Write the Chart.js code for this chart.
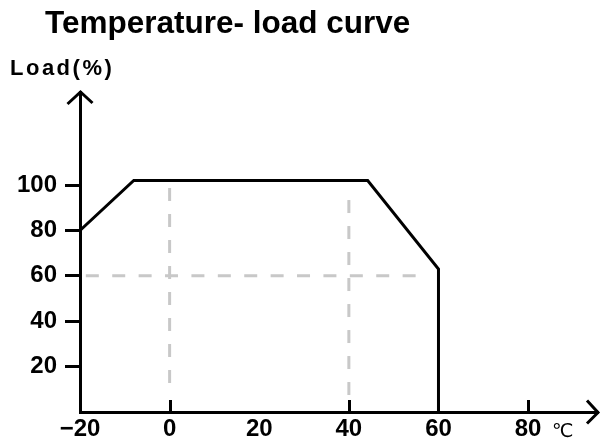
<!DOCTYPE html>
<html><head><meta charset="utf-8">
<script src="https://cdn.jsdelivr.net/npm/chart.js@4"></script>
<style>html,body{margin:0;padding:0;background:#fff}#wrap{width:601px;height:444px}</style>
</head><body><div id="wrap"><canvas id="c" width="601" height="444"></canvas></div>
<script>
// ---- data ----
const titleText = 'Temperature- load curve';
const yAxisLabel = 'Load(%)';
const xUnitLabel = '℃';
const tempC   = [-20, -8, 44.2, 60, 60];
const loadPct = [80, 102, 102, 63, 0];
const xTicks = [-20, 0, 20, 40, 60, 80];
const xTickLabels = ['−20', '0', '20', '40', '60', '80'];
const yTicks = [20, 40, 60, 80, 100];
const xTickMarks = [0, 40, 60, 80];
const guide0X = [0, 0],   guide0Y = [98.7, 11.9];
const guide40X = [40, 40], guide40Y = [93.4, 7.5];
const guide60X = [-18.7, 55.2], guide60Y = [60, 60];
const xMin = -20, xMax = 95.6, yMin = 0, yMax = 141;

const pts = (xs, ys) => xs.map((x, i) => ({x, y: ys[i]}));
const GRAY = '#c8c8c8';

const overlay = {
  id: 'overlay',
  afterDatasetsDraw(chart) {
    const {ctx, chartArea: a, scales: {x}} = chart;
    ctx.save();
    ctx.strokeStyle = '#000'; ctx.lineWidth = 3;
    xTickMarks.forEach(v => {
      const px = Math.round(x.getPixelForValue(v)) + 0.5;
      ctx.beginPath(); ctx.moveTo(px, a.bottom); ctx.lineTo(px, a.bottom - 12); ctx.stroke();
    });
    ctx.restore();
  },
  afterDraw(chart) {
    const {ctx, chartArea: a, scales: {x}} = chart;
    ctx.save();
    ctx.strokeStyle = '#000'; ctx.lineWidth = 3; ctx.lineJoin = 'miter';
    const ax = chart.scales.y.right + 0.5;
    // y arrow
    ctx.beginPath(); ctx.moveTo(ax - 13, a.top + 12); ctx.lineTo(ax, a.top); ctx.lineTo(ax + 12, a.top + 11); ctx.stroke();
    ctx.beginPath(); ctx.moveTo(ax, a.top); ctx.lineTo(ax, a.top + 14); ctx.stroke();
    // x arrow
    const ay = a.bottom + 0.5;
    ctx.beginPath(); ctx.moveTo(a.right - 11, ay - 12); ctx.lineTo(a.right, ay); ctx.lineTo(a.right - 11, ay + 11); ctx.stroke();
    // texts
    ctx.fillStyle = '#000';
    ctx.textAlign = 'left'; ctx.textBaseline = 'alphabetic';
    ctx.font = 'bold 31.5px "Liberation Sans", Arial, sans-serif';
    ctx.fillText(titleText, 45, 33);
    ctx.font = 'bold 22px "Liberation Sans", Arial, sans-serif';
    try { ctx.letterSpacing = '2.5px'; } catch (e) {}
    ctx.fillText(yAxisLabel, 10, 75);
    try { ctx.letterSpacing = '0px'; } catch (e) {}
    ctx.font = '19px "DejaVu Sans", sans-serif';
    ctx.fillText(xUnitLabel, x.getPixelForValue(80) + 24, 437);
    ctx.restore();
  }
};

new Chart(document.getElementById('c'), {
  type: 'line',
  data: {
    datasets: [
      {data: pts(tempC, loadPct), borderColor: '#000', borderWidth: 3, pointRadius: 0, tension: 0, fill: false},
      {data: pts(guide0X, guide0Y), borderColor: GRAY, borderWidth: 3, borderDash: [13, 13], pointRadius: 0},
      {data: pts(guide40X, guide40Y), borderColor: GRAY, borderWidth: 3, borderDash: [13, 13], pointRadius: 0},
      {data: pts(guide60X, guide60Y), borderColor: GRAY, borderWidth: 3, borderDash: [13, 13.4], pointRadius: 0}
    ]
  },
  options: {
    responsive: false,
    animation: false,
    events: [],
    layout: {padding: {top: 92, right: 3, left: 0, bottom: 0}},
    plugins: {legend: {display: false}, tooltip: {enabled: false}, title: {display: false}},
    scales: {
      x: {
        type: 'linear', min: xMin, max: xMax,
        afterBuildTicks: s => { s.ticks = xTicks.map(v => ({value: v})); },
        afterFit: s => { s.height = 32; },
        grid: {display: true, drawOnChartArea: false, drawTicks: false},
        border: {display: true, color: '#000', width: 3},
        ticks: {
          padding: 3, color: '#000', maxRotation: 0, autoSkip: false,
          font: {family: '"Liberation Sans", Arial, sans-serif', size: 24, weight: 'bold'},
          callback: (v, i) => xTickLabels[i]
        }
      },
      y: {
        type: 'linear', min: yMin, max: yMax,
        afterBuildTicks: s => { s.ticks = yTicks.map(v => ({value: v})); },
        afterFit: s => { s.width = 80; },
        grid: {display: true, drawOnChartArea: false, drawTicks: true, tickLength: 15, tickWidth: 3, tickColor: '#000'},
        border: {display: true, color: '#000', width: 3},
        ticks: {
          padding: 8, color: '#000', autoSkip: false,
          font: {family: '"Liberation Sans", Arial, sans-serif', size: 24, weight: 'bold'}
        }
      }
    }
  },
  plugins: [overlay]
});
</script>
</body></html>
